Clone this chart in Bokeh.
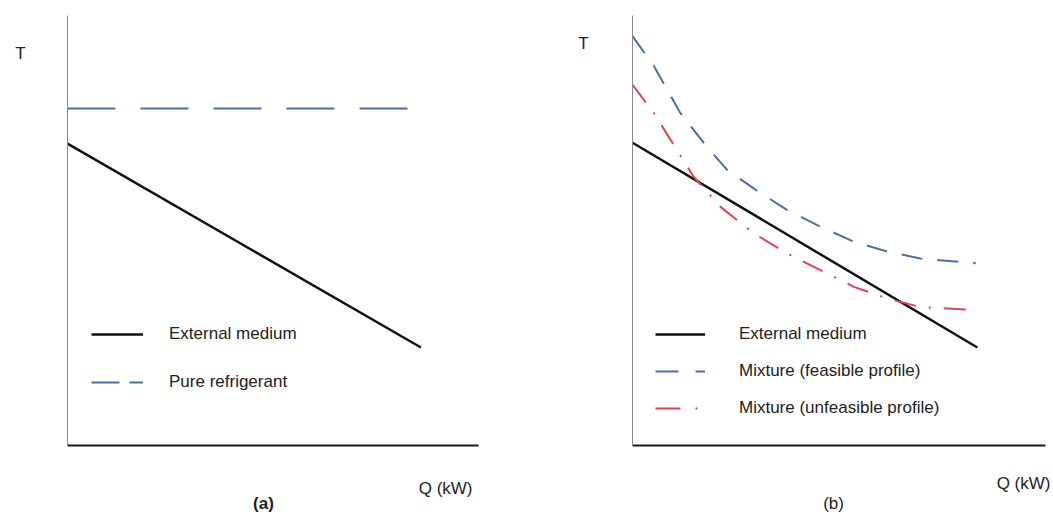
from bokeh.plotting import figure
from bokeh.models import Range1d, Legend, LegendItem, Label, FixedTicker
from bokeh.layouts import row
from bokeh.embed import file_html
from bokeh.resources import INLINE

# ---------------- data (arbitrary units, Q and T on 0..100 scales) ----------------
# Panel (a)
q_ext_a = [0, 86.0]
t_ext_a = [70.2, 22.8]
q_pure = [0, 86.0]
t_pure = [78.4, 78.4]

# Panel (b)
q_ext_b = [0, 83.5]
t_ext_b = [70.4, 22.8]
q_feas = [0, 5.2, 11.6, 17.3, 22.9, 31.0, 37.4, 45.5, 53.6, 61.7, 69.7, 83.1]
t_feas = [95.2, 88.2, 77.3, 70.3, 64.1, 58.7, 54.8, 50.9, 47.4, 45.1, 43.5, 42.4]
q_unf = [0, 5.2, 9.2, 14.8, 21.3, 29.4, 37.4, 45.5, 53.6, 61.7, 69.7, 82.6]
t_unf = [83.9, 77.3, 71.1, 62.5, 55.5, 49.3, 44.7, 40.8, 36.9, 34.2, 32.2, 31.5]

labels_a = ["External medium", "Pure refrigerant"]
labels_b = ["External medium", "Mixture (feasible profile)", "Mixture (unfeasible profile)"]

FONT = "Liberation Sans"
FS = "17px"
BLUE = "#4a6fa8"
RED = "#e0434f"
BLACK = "#111111"
TXT = "#222222"
NAN = [float("nan")]


def base(width, xr, yr):
    p = figure(width=width, height=520, x_range=Range1d(*xr), y_range=Range1d(*yr),
               output_backend="svg", toolbar_location=None,
               min_border_left=0, min_border_right=0,
               min_border_top=0, min_border_bottom=0)
    p.grid.visible = False
    p.outline_line_color = None
    for ax in (p.xaxis[0], p.yaxis[0]):
        ax.ticker = FixedTicker(ticks=[])
        ax.major_tick_out = 0
        ax.major_tick_in = 0
        ax.minor_tick_out = 0
        ax.minor_tick_in = 0
        ax.fixed_location = 0
        ax.bounds = (0, 100)
    p.xaxis.axis_line_color = "#1a1a1a"
    p.xaxis.axis_line_width = 2
    p.yaxis.axis_line_color = "#8a8a8a"
    p.yaxis.axis_line_width = 1
    return p


def add_text(p, x, y, text, align, bold=False):
    p.add_layout(Label(x=x, y=y, text=text, text_font=FONT, text_font_size=FS,
                       text_color=TXT, text_align=align, text_baseline="middle",
                       text_font_style="bold" if bold else "normal"))


def style_legend(leg, loc, spacing, standoff, gw):
    leg.location = loc
    leg.glyph_width = gw
    leg.glyph_height = 20
    leg.label_height = 20
    leg.spacing = spacing
    leg.label_standoff = standoff
    leg.padding = 0
    leg.margin = 0
    leg.border_line_color = None
    leg.background_fill_alpha = 0
    leg.label_text_font = FONT
    leg.label_text_font_size = FS
    leg.label_text_color = TXT


# ---------------- panel (a) ----------------
pa = base(526, (-16.30, 111.68), (-17.44, 103.49))
r_ext_a = pa.line(q_ext_a, t_ext_a, line_color=BLACK, line_width=2.5)
pa.line(q_pure, t_pure, line_color=BLUE, line_width=2, line_dash="48 25")
proxy_pure = pa.line(NAN, NAN, line_color=BLUE, line_width=2, line_dash="28 10")
add_text(pa, -11.44, 91.16, "T", "center")
add_text(pa, 98.54, -10.0, "Q (kW)", "right")
add_text(pa, 47.69, -13.49, "(a)", "center", bold=True)
leg_a = Legend(items=[LegendItem(label=labels_a[0], renderers=[r_ext_a]),
                      LegendItem(label=labels_a[1], renderers=[proxy_pure])])
style_legend(leg_a, (91, 128), 28, 26, 52)
pa.add_layout(leg_a)

# ---------------- panel (b) ----------------
pb = base(526, (-25.67, 101.69), (-17.44, 103.49))
r_ext_b = pb.line(q_ext_b, t_ext_b, line_color=BLACK, line_width=2.5)
pb.line(q_feas, t_feas, line_color=BLUE, line_width=2, line_dash="21 15")
pb.line(q_unf, t_unf, line_color=RED, line_width=2, line_dash="22 13 2 13")
proxy_feas = pb.line(NAN, NAN, line_color=BLUE, line_width=2, line_dash="23 17")
proxy_unf = pb.line(NAN, NAN, line_color=RED, line_width=2, line_dash="25 15 2 15")
add_text(pb, -11.86, 93.5, "T", "center")
add_text(pb, 101.2, -8.84, "Q (kW)", "right")
add_text(pb, 48.67, -13.49, "(b)", "center")
leg_b = Legend(items=[LegendItem(label=labels_b[0], renderers=[r_ext_b]),
                      LegendItem(label=labels_b[1], renderers=[proxy_feas]),
                      LegendItem(label=labels_b[2], renderers=[proxy_unf])])
style_legend(leg_b, (129, 102), 17, 34, 50)
pb.add_layout(leg_b)

layout = row(pa, pb)
open("out.html", "w").write(file_html(layout, INLINE))
